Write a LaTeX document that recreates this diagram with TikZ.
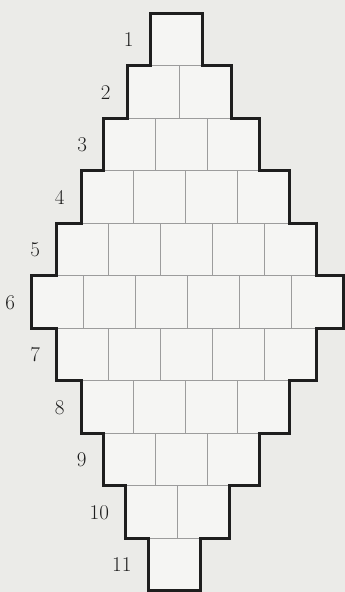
\documentclass[tikz,border=0pt]{standalone}
\definecolor{inkcol}{HTML}{1e1e1e}
\definecolor{gridcol}{HTML}{9c9c9c}
\definecolor{papercol}{HTML}{ebebe8}
\definecolor{brickcol}{HTML}{f5f5f3}

\begin{document}
\begin{tikzpicture}[x=1pt, y=-1pt,
  brickline/.style={gridcol, line width=0.8pt},
  outline/.style={inkcol, line width=3pt, line cap=rect},
  rowlabel/.style={inkcol, anchor=east, font=\fontsize{21}{25}\selectfont}]

% === Page ===
\fill[papercol] (0,0) rectangle (345,592);
\useasboundingbox (0,0) rectangle (345,592);

% === Rows of bricks: row / bricks / centre ===
\pgfmathsetmacro{\bw}{52}
\pgfmathsetmacro{\bh}{52.5}
\foreach \r/\n/\c [evaluate=\r as \top using 13+(\r-1)*52.5,
                   evaluate=\c as \lft using \c-\n*26,
                   evaluate=\c as \rgt using \c+\n*26,
                   remember=\lft as \plft (initially 0),
                   remember=\rgt as \prgt (initially 0)]
  in {1/1/176, 2/2/179, 3/3/181.5, 4/4/185, 5/5/186.5, 6/6/187.5,
      7/5/186.5, 8/4/185, 9/3/181, 10/2/177.5, 11/1/174} {
  \fill[brickcol] (\lft,\top) rectangle (\rgt,\top+\bh);
  \draw[brickline] (\lft,\top) rectangle (\rgt,\top+\bh);
  \ifnum\n>1
    \foreach \k in {2,...,\n}
      \draw[brickline] (\lft+\k*\bw-\bw,\top) -- (\lft+\k*\bw-\bw,\top+\bh);
  \fi
  % thick sides
  \draw[outline] (\lft,\top) -- (\lft,\top+\bh);
  \draw[outline] (\rgt,\top) -- (\rgt,\top+\bh);
  % thick ledges to the row above
  \ifnum\r>1
    \draw[outline] (\plft,\top) -- (\lft,\top);
    \draw[outline] (\prgt,\top) -- (\rgt,\top);
  \fi
  \node[rowlabel] (lab\r) at (\lft-13,\top+27) {\r};
}

% === Top and bottom caps ===
\draw[outline] (150,13) -- (202,13);
\draw[outline] (148,590.5) -- (200,590.5);

\end{tikzpicture}
\end{document}
